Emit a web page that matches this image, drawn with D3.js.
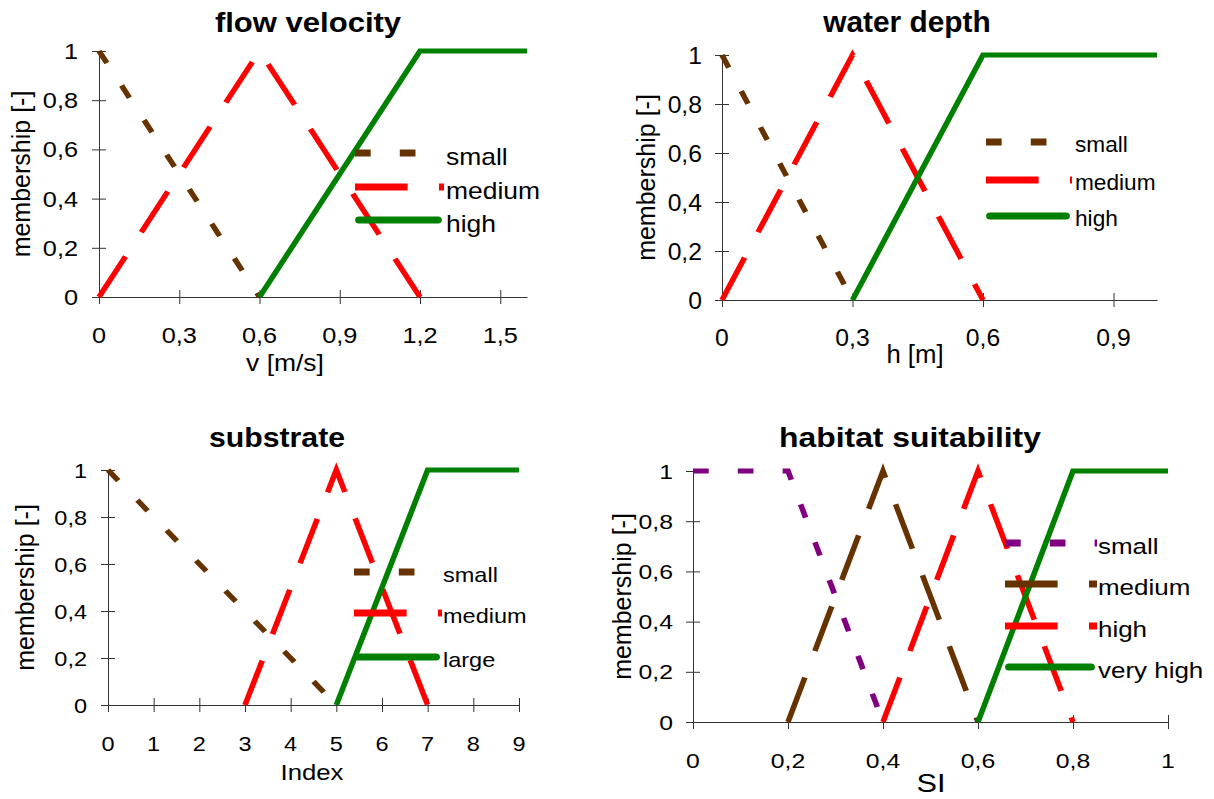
<!DOCTYPE html>
<html>
<head>
<meta charset="utf-8">
<script src="https://cdn.jsdelivr.net/npm/d3@7"></script>
<style>
    body { margin: 0; background: #fff; }
    svg { display: block; font-family: "Liberation Sans", Arial, sans-serif; }
</style>
</head>
<body>
<svg id="chart" width="1214" height="799"></svg>
<script>
// membership functions
var membershipTicks = [0, 0.2, 0.4, 0.6, 0.8, 1];

var flowTicks = [0, 0.3, 0.6, 0.9, 1.2, 1.5];
var flowSmallX = [0, 0.6],        flowSmallY = [1, 0];
var flowMediumX = [0, 0.6, 1.2],  flowMediumY = [0, 1, 0];
var flowHighX = [0.6, 1.2, 1.6],  flowHighY = [0, 1, 1];

var depthTicks = [0, 0.3, 0.6, 0.9];
var depthSmallX = [0, 0.3],       depthSmallY = [1, 0];
var depthMediumX = [0, 0.3, 0.6], depthMediumY = [0, 1, 0];
var depthHighX = [0.3, 0.6, 1.0], depthHighY = [0, 1, 1];

var substrateTicks = [0, 1, 2, 3, 4, 5, 6, 7, 8, 9];
var substrateSmallX = [0, 5],       substrateSmallY = [1, 0];
var substrateMediumX = [3, 5, 7],   substrateMediumY = [0, 1, 0];
var substrateLargeX = [5, 7, 9],    substrateLargeY = [0, 1, 1];

var siTicks = [0, 0.2, 0.4, 0.6, 0.8, 1];
var siSmallX = [0, 0.2, 0.4],     siSmallY = [1, 1, 0];
var siMediumX = [0.2, 0.4, 0.6],  siMediumY = [0, 1, 0];
var siHighX = [0.4, 0.6, 0.8],    siHighY = [0, 1, 0];
var siVeryHighX = [0.6, 0.8, 1],  siVeryHighY = [0, 1, 1];

var BROWN = "#663300", RED = "#ff0000", GREEN = "#008000", PURPLE = "#800080";
var SHORT = "14,26", LONG = "47,28";

// the original picture is stretched sideways; lines are drawn in the
// unstretched frame and scaled, so dashes and widths come out like it
var LS = 1.12;

var svg = d3.select("#chart");

function fmt(d) { return String(d).replace(".", ","); }

function put(g, x, y, s, size, sx, anchor) {
    return g.append("text")
        .attr("transform", "translate(" + x + "," + y + ") scale(" + sx + ",1)")
        .attr("text-anchor", anchor || "start")
        .attr("font-size", size)
        .text(s);
}

function panel(p) {
    var x = d3.scaleLinear().domain(p.domain).range(p.xr);
    var y = d3.scaleLinear().domain([0, 1]).range(p.yr);
    var lx = d3.scaleLinear().domain(p.domain).range([p.xr[0] / LS, p.xr[1] / LS]);
    var g = svg.append("g");

    // axes, ticks crossing the axis line like the spreadsheet original
    var xAxis = d3.axisBottom(x).tickValues(p.ticks).tickSizeInner(7).tickSizeOuter(0).tickFormat("");
    var gx = g.append("g").attr("transform", "translate(0," + p.yr[0] + ")").call(xAxis);
    gx.selectAll(".tick line").attr("y1", -7);
    var yAxis = d3.axisLeft(y).tickValues(membershipTicks).tickSizeInner(7).tickSizeOuter(0).tickFormat("");
    var gy = g.append("g").attr("transform", "translate(" + p.xr[0] + ",0)").call(yAxis);
    gy.selectAll(".tick line").attr("x1", 7);
    g.selectAll(".domain, .tick line").attr("stroke", "#333").attr("stroke-width", 1);

    p.ticks.forEach(function (d) {
        put(g, x(d), p.yr[0] + 46, fmt(d), p.tickSize, p.sx, "middle");
    });
    membershipTicks.forEach(function (d) {
        put(g, p.xr[0] - p.yLabGap, y(d), fmt(d), p.tickSize, p.sx, "end").attr("dy", "0.36em");
    });

    put(g, p.title[0], p.title[1], p.name, p.titleSize, p.sx, "middle").attr("font-weight", "bold");
    put(g, p.xlabel[0], p.xlabel[1], p.xname, p.xlabelSize, p.sx, "middle");

    g.append("text")
        .attr("transform", "translate(" + p.ylabelX + "," + ((p.yr[0] + p.yr[1]) / 2) + ") rotate(-90)")
        .attr("text-anchor", "middle")
        .attr("font-size", 25)
        .text("membership [-]");

    var plot = g.append("g").attr("transform", "scale(" + LS + ",1)");

    var line = d3.line()
        .x(function (d) { return lx(d[0]); })
        .y(function (d) { return y(d[1]); });

    p.series.forEach(function (s) {
        plot.append("path")
            .datum(d3.zip(s.xs, s.ys))
            .attr("d", line)
            .attr("fill", "none")
            .attr("stroke", s.color)
            .attr("stroke-width", 5)
            .attr("stroke-linejoin", "miter")
            .attr("stroke-dasharray", s.dash || null);
    });

    // legend, no box, drawn over the lines
    p.series.forEach(function (s, i) {
        var ly = p.legRows[i];
        var solid = !s.dash;
        plot.append("line")
            .attr("x1", (solid ? p.legX[0] + 4 : p.legX[0]) / LS)
            .attr("x2", (solid ? p.legX[1] - 6 : p.legX[1]) / LS)
            .attr("y1", ly).attr("y2", ly)
            .attr("stroke", s.color)
            .attr("stroke-width", 7)
            .attr("stroke-linecap", solid ? "round" : "butt")
            .attr("stroke-dasharray", s.dash || null);
        put(g, p.legText, ly + p.legOff, s.label, p.legSize, p.sx);
    });
}

panel({
    name: "flow velocity", xname: "v [m/s]", sx: 1.15,
    domain: [0, 1.6], ticks: flowTicks,
    xr: [99, 527], yr: [297, 51],
    title: [308, 32], titleSize: 27,
    xlabel: [285, 371], xlabelSize: 23,
    ylabelX: 30, tickSize: 22, yLabGap: 21,
    legX: [355, 444], legText: 446, legRows: [153, 187, 220], legOff: 12, legSize: 23,
    series: [
        { label: "small", xs: flowSmallX, ys: flowSmallY, color: BROWN, dash: SHORT },
        { label: "medium", xs: flowMediumX, ys: flowMediumY, color: RED, dash: LONG },
        { label: "high", xs: flowHighX, ys: flowHighY, color: GREEN }
    ]
});

panel({
    name: "water depth", xname: "h [m]", sx: 1.03,
    domain: [0, 1], ticks: depthTicks,
    xr: [722, 1157], yr: [300, 55],
    title: [907, 32], titleSize: 29,
    xlabel: [915, 363], xlabelSize: 25,
    ylabelX: 655, tickSize: 24, yLabGap: 20,
    legX: [986, 1072], legText: 1075, legRows: [142, 180, 216], legOff: 10, legSize: 22,
    series: [
        { label: "small", xs: depthSmallX, ys: depthSmallY, color: BROWN, dash: SHORT },
        { label: "medium", xs: depthMediumX, ys: depthMediumY, color: RED, dash: LONG },
        { label: "high", xs: depthHighX, ys: depthHighY, color: GREEN }
    ]
});

panel({
    name: "substrate", xname: "Index", sx: 1.12,
    domain: [0, 9], ticks: substrateTicks,
    xr: [108, 519], yr: [705, 470],
    title: [277, 447], titleSize: 27,
    xlabel: [312, 780], xlabelSize: 23,
    ylabelX: 34, tickSize: 21, yLabGap: 21,
    legX: [354, 442], legText: 443, legRows: [572, 613, 657], legOff: 10, legSize: 21,
    series: [
        { label: "small", xs: substrateSmallX, ys: substrateSmallY, color: BROWN, dash: SHORT },
        { label: "medium", xs: substrateMediumX, ys: substrateMediumY, color: RED, dash: LONG },
        { label: "large", xs: substrateLargeX, ys: substrateLargeY, color: GREEN }
    ]
});

panel({
    name: "habitat suitability", xname: "SI", sx: 1.18,
    domain: [0, 1], ticks: siTicks,
    xr: [693, 1168], yr: [722, 471],
    title: [910, 447], titleSize: 27,
    xlabel: [931, 792], xlabelSize: 26,
    ylabelX: 631, tickSize: 21, yLabGap: 20,
    legX: [1005, 1097], legText: 1098, legRows: [543, 584, 626, 667], legOff: 11, legSize: 22,
    series: [
        { label: "small", xs: siSmallX, ys: siSmallY, color: PURPLE, dash: SHORT },
        { label: "medium", xs: siMediumX, ys: siMediumY, color: BROWN, dash: LONG },
        { label: "high", xs: siHighX, ys: siHighY, color: RED, dash: LONG },
        { label: "very high", xs: siVeryHighX, ys: siVeryHighY, color: GREEN }
    ]
});
</script>
</body>
</html>
